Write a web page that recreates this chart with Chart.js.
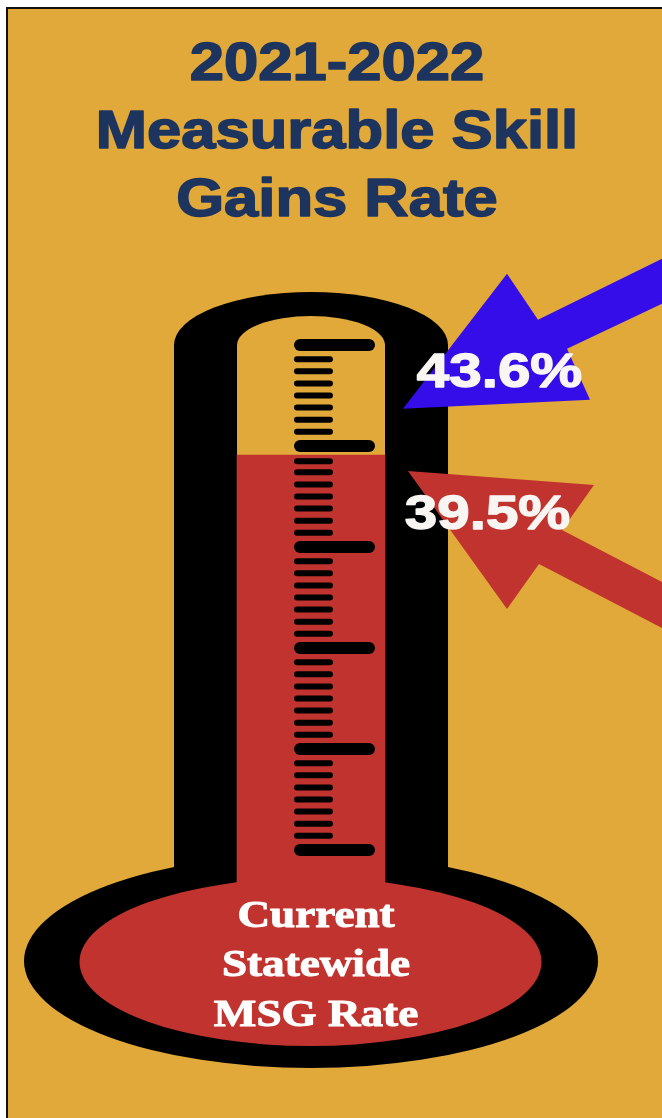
<!DOCTYPE html>
<html>
<head>
<meta charset="utf-8">
<style>
  html, body { margin: 0; padding: 0; background: #fff; }
  canvas { display: block; }
</style>
<script src="https://cdn.jsdelivr.net/npm/chart.js@4"></script>
</head>
<body>
<canvas id="thermo" width="662" height="1118"></canvas>
<script>
const titleLines = ['2021-2022', 'Measurable Skill', 'Gains Rate']
const bulbLines = ['Current', 'Statewide', 'MSG Rate']
const goalRate = 43.6
const currentRate = 39.5
// top of the red column read against the ticks, it sits a little under the label value
const columnTop = 39.1
const columnBase = -7
const majorTicks = [50, 40, 30, 20, 10, 0]
const minorTicks = [
  48.6, 47.4, 46.2, 45.0, 43.8, 42.6, 41.4,
  38.5, 37.4, 36.2, 35.0, 33.8, 32.6, 31.4,
  28.6, 27.4, 26.2, 25.0, 23.8, 22.6, 21.4,
  18.6, 17.4, 16.2, 15.0, 13.8, 12.6, 11.4,
  8.6, 7.4, 6.2, 5.0, 3.8, 2.6, 1.4
]

const GOLD = '#E0A93A'
const RED = '#C1332E'
const BLUE = '#340DE8'
const NAVY = '#1D345F'
const WHITE = '#F9F5F3'

function tickLine(value, from, to, width) {
  return {
    type: 'line',
    data: [{ x: from, y: value }, { x: to, y: value }],
    borderColor: '#000',
    borderWidth: width,
    borderCapStyle: 'round',
    pointRadius: 0,
    clip: false,
    order: 1
  }
}

function polygon(ctx, tipX, tipY, pts, color) {
  ctx.beginPath()
  pts.forEach((p, i) => {
    if (i === 0) ctx.moveTo(tipX + p[0], tipY + p[1])
    else ctx.lineTo(tipX + p[0], tipY + p[1])
  })
  ctx.closePath()
  ctx.fillStyle = color
  ctx.fill()
}

// the source image is stretched sideways, so the text is too
function wideText(ctx, text, cx, baseline, font, color, stretch, stroke) {
  ctx.save()
  ctx.translate(cx, baseline)
  ctx.scale(stretch, 1)
  ctx.font = font
  ctx.textAlign = 'center'
  ctx.textBaseline = 'alphabetic'
  ctx.fillStyle = color
  if (stroke) {
    ctx.strokeStyle = color
    ctx.lineWidth = stroke
    ctx.lineJoin = 'round'
    ctx.strokeText(text, 0, 0)
  }
  ctx.fillText(text, 0, 0)
  ctx.restore()
}

const thermometer = {
  id: 'thermometer',
  beforeDatasetsDraw(chart) {
    const ctx = chart.ctx
    const top = chart.scales.y.getPixelForValue(50)
    const cx = chart.scales.x.getPixelForValue(0.21)
    ctx.save()

    // panel
    ctx.fillStyle = '#111'
    ctx.fillRect(6, 7, 656, 1111)
    ctx.fillStyle = GOLD
    ctx.fillRect(8, 9, 654, 1109)

    // black body
    ctx.fillStyle = '#000'
    ctx.beginPath()
    ctx.ellipse(cx, top, 137, 53, 0, 0, Math.PI * 2)
    ctx.fill()
    ctx.fillRect(cx - 137, top, 274, 540)
    ctx.beginPath()
    ctx.ellipse(cx, 961, 287, 107, 0, 0, Math.PI * 2)
    ctx.fill()

    // glass
    ctx.fillStyle = GOLD
    ctx.beginPath()
    ctx.ellipse(cx, top, 74, 29, 0, 0, Math.PI * 2)
    ctx.fill()
    ctx.fillRect(cx - 74, top, 148, 300)

    // bulb
    ctx.fillStyle = RED
    ctx.beginPath()
    ctx.ellipse(cx - 0.5, 962, 231, 84, 0, 0, Math.PI * 2)
    ctx.fill()
    ctx.restore()
  },
  afterDatasetsDraw(chart) {
    const ctx = chart.ctx
    const y = chart.scales.y

    polygon(ctx, 403, y.getPixelForValue(goalRate) - 1, [
      [0, 0], [104, -135], [135, -89], [259, -150], [259, -105], [164, -60], [187, -9]
    ], BLUE)
    polygon(ctx, 408, y.getPixelForValue(currentRate) + 20, [
      [0, 0], [186, 14], [154, 59], [254, 111], [254, 157], [131, 93], [99, 138]
    ], RED)

    const titleFont = 'bold 54px "Liberation Sans", Arial, sans-serif'
    const titleBase = [80, 148, 216]
    titleLines.forEach((line, i) => {
      wideText(ctx, line, 337, titleBase[i], titleFont, NAVY, 1.14, 1.6)
    })

    const rateFont = 'bold 49px "Liberation Sans", Arial, sans-serif'
    wideText(ctx, goalRate.toFixed(1) + '%', 499.5, 387, rateFont, WHITE, 1.19, 1.4)
    wideText(ctx, currentRate.toFixed(1) + '%', 487.5, 529, rateFont, WHITE, 1.19, 1.4)

    const bulbFont = 'bold 37px "Liberation Serif", "Times New Roman", serif'
    const bulbBase = [927, 976, 1026]
    bulbLines.forEach((line, i) => {
      wideText(ctx, line, 316, bulbBase[i], bulbFont, '#fff', 1.22, 1)
    })
  }
}

new Chart(document.getElementById('thermo'), {
  data: {
    datasets: [
      {
        type: 'bar',
        data: [{ x: 0.21, y: [columnBase, columnTop] }],
        backgroundColor: RED,
        barThickness: 148,
        clip: false,
        order: 2
      },
      ...majorTicks.map(v => tickLine(v, 0.074, 0.926, 12)),
      ...minorTicks.map(v => tickLine(v, 0.037, 0.444, 6))
    ]
  },
  options: {
    responsive: false,
    animation: false,
    devicePixelRatio: 1,
    layout: { padding: { left: 294, right: 287, top: 345, bottom: 268 } },
    plugins: {
      legend: { display: false },
      title: { display: false },
      tooltip: { enabled: false }
    },
    scales: {
      x: { type: 'linear', min: 0, max: 1, offset: false, display: false },
      y: { type: 'linear', min: 0, max: 50, display: false }
    }
  },
  plugins: [thermometer]
})
</script>
</body>
</html>
